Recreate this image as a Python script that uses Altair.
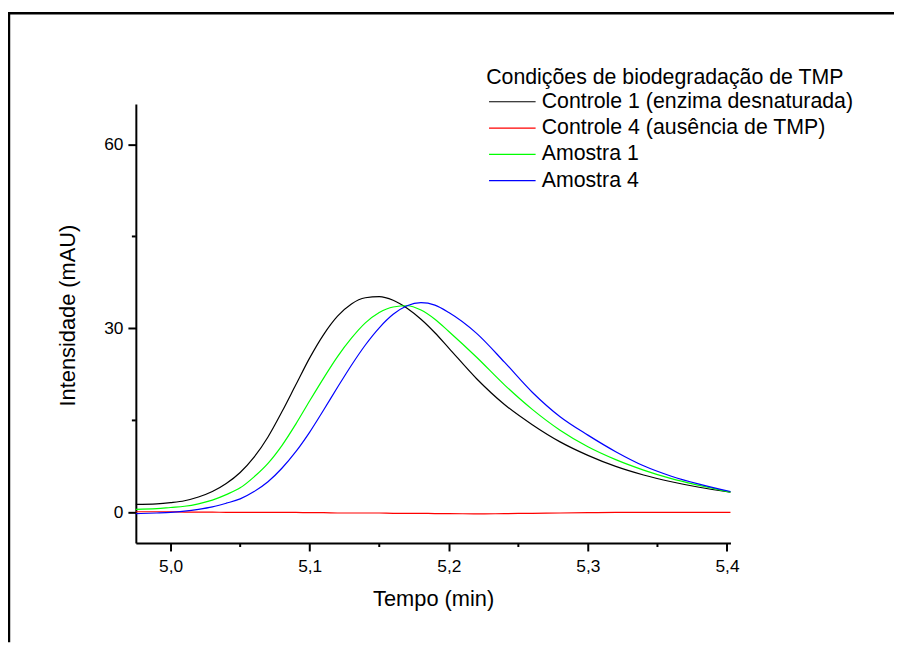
import altair as alt
import pandas as pd

series_names = [
    "Controle 1 (enzima desnaturada)",
    "Controle 4 (ausência de TMP)",
    "Amostra 1",
    "Amostra 4",
]
series_colors = ["#000000", "#ff0000", "#00ff00", "#0000ff"]

tempo = [4.975, 4.99, 5.00, 5.01, 5.02, 5.03, 5.04, 5.05, 5.06, 5.07, 5.08, 5.09,
         5.10, 5.11, 5.12, 5.13, 5.14, 5.15, 5.16, 5.17, 5.18, 5.19, 5.20, 5.22,
         5.24, 5.26, 5.28, 5.30, 5.32, 5.34, 5.36, 5.38, 5.4025]

controle1 = [1.3, 1.4, 1.6, 1.9, 2.5, 3.4, 4.7, 6.5, 9.0, 12.3, 16.4, 20.8,
             25.2, 29.0, 32.0, 34.0, 35.0, 35.2, 34.6, 33.3, 31.5, 29.3, 26.8, 21.8,
             17.6, 14.3, 11.5, 9.3, 7.5, 6.1, 5.0, 4.1, 3.3]

controle4 = [0.1, 0.1, 0.1, 0.05, 0.05, 0.05, 0.0, 0.0, 0.0, 0.0, 0.0, 0.0,
             -0.05, -0.05, -0.1, -0.1, -0.1, -0.1, -0.15, -0.15, -0.15, -0.2, -0.2, -0.25,
             -0.2, -0.15, -0.1, -0.05, 0.0, 0.0, 0.0, 0.0, 0.0]

amostra1 = [0.5, 0.6, 0.8, 1.0, 1.4, 2.0, 2.9, 4.0, 5.8, 8.0, 10.9, 14.4,
            18.2, 21.9, 25.4, 28.4, 30.9, 32.6, 33.5, 33.7, 33.0, 31.5, 29.5, 25.3,
            20.8, 16.8, 13.4, 10.7, 8.6, 6.9, 5.5, 4.4, 3.3]

amostra4 = [-0.2, -0.1, 0.0, 0.2, 0.5, 0.9, 1.5, 2.2, 3.4, 5.0, 7.2, 9.9,
            13.1, 16.7, 20.4, 24.0, 27.3, 30.1, 32.3, 33.7, 34.2, 33.8, 32.6, 29.2,
            24.5, 19.6, 15.6, 12.6, 9.9, 7.6, 5.9, 4.6, 3.4]

x_ticks = [5.0, 5.1, 5.2, 5.3, 5.4]
x_minor = [5.05, 5.15, 5.25, 5.35]
y_ticks = [0, 30, 60]
y_minor = [15, 45]

W, H = 600, 443
FONT = "Liberation Sans"

rows = []
for name, vals in zip(series_names, [controle1, controle4, amostra1, amostra4]):
    for t, v in zip(tempo, vals):
        rows.append({"tempo": t, "intensidade": v, "serie": name})
df = pd.DataFrame(rows)

xscale = alt.Scale(domain=[4.975, 5.4025], nice=False, zero=False)
yscale = alt.Scale(domain=[-5, 66.6], nice=False, zero=False)

lines = alt.Chart(df).mark_line(strokeWidth=1.2, interpolate="monotone").encode(
    x=alt.X("tempo:Q", scale=xscale,
            axis=alt.Axis(values=x_ticks, title="Tempo (min)", labelPadding=7,
                          labelExpr="replace(format(datum.value, '.1f'), '.', ',')",
                          titleX=W / 2, titleY=56, titleBaseline="middle")),
    y=alt.Y("intensidade:Q", scale=yscale,
            axis=alt.Axis(values=y_ticks, title="Intensidade (mAU)",
                          labelExpr="format(datum.value, 'd')",
                          titleX=-69, titleY=213, titleBaseline="middle", titleAngle=-90)),
    color=alt.Color("serie:N", sort=series_names,
                    scale=alt.Scale(domain=series_names, range=series_colors),
                    legend=alt.Legend(title="Condições de biodegradação de TMP",
                                      orient="none", legendX=353.5, legendY=-37.5,
                                      symbolType="M-1.34,0H6.66", symbolSize=138,
                                      symbolStrokeWidth=1.2,
                                      labelFont=FONT, titleFont=FONT,
                                      labelFontSize=21.5, titleFontSize=21.5,
                                      titleFontWeight="normal", labelColor="black",
                                      titleColor="black", labelOffset=34.5,
                                      labelLimit=500, titleLimit=600,
                                      rowPadding=3.5, titlePadding=3, padding=0)),
    detail="serie:N",
    order=alt.Order("tempo:Q"),
)

ymin_df = pd.DataFrame({"v": y_minor})
xmin_df = pd.DataFrame({"v": x_minor})

y_minor_ticks = alt.Chart(ymin_df).mark_rule(color="black", strokeWidth=2).encode(
    y=alt.Y("v:Q", scale=yscale), x=alt.value(-4), x2=alt.value(0))
x_minor_ticks = alt.Chart(xmin_df).mark_rule(color="black", strokeWidth=2).encode(
    x=alt.X("v:Q", scale=xscale), y=alt.value(H), y2=alt.value(H + 4))

one = pd.DataFrame({"a": [0]})
frame_top = alt.Chart(one).mark_rule(color="black", strokeWidth=2.5).encode(
    x=alt.value(-129), x2=alt.value(765), y=alt.value(-91.5))
frame_left = alt.Chart(one).mark_rule(color="black", strokeWidth=2.5).encode(
    x=alt.value(-128), y=alt.value(-92.7), y2=alt.value(H + 100))

chart = alt.layer(frame_top, frame_left, y_minor_ticks, x_minor_ticks, lines).properties(
    width=W, height=H,
    autosize=alt.AutoSizeParams(type="none"),
    padding={"left": 129, "top": 94, "right": 165, "bottom": 100},
).configure_view(stroke=None).configure_axis(
    grid=False, domainColor="black", domainWidth=2, tickColor="black", tickWidth=2,
    tickSize=8, labelFont=FONT, labelFontSize=17.5, labelColor="black",
    labelPadding=5, titleFont=FONT, titleFontSize=22, titleFontWeight="normal",
    titleColor="black",
)

chart.save("out.html", embed_options={"renderer": "svg", "actions": False})
